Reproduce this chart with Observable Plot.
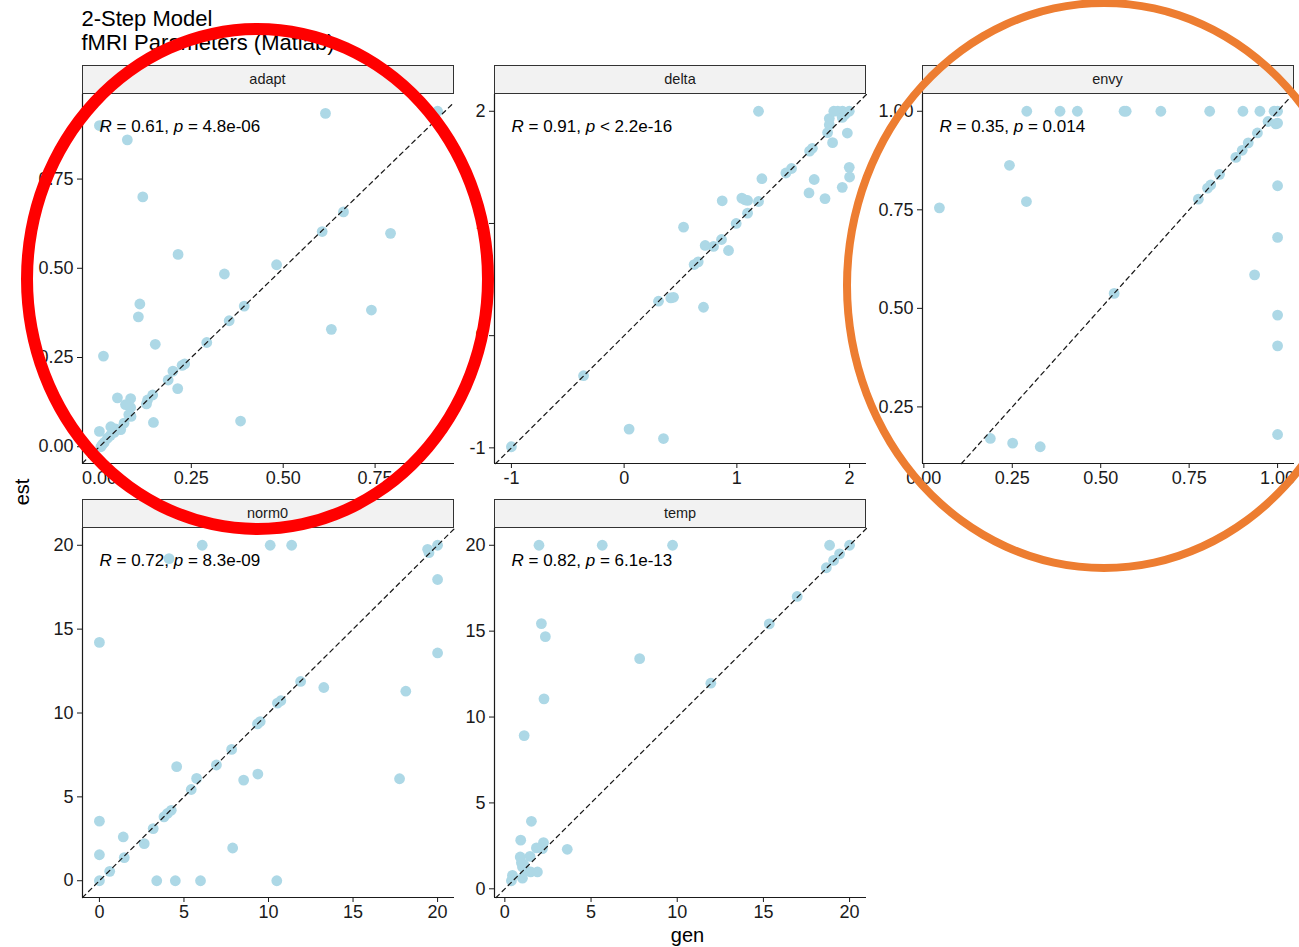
<!DOCTYPE html>
<html>
<head>
<meta charset="utf-8">
<script src="https://cdn.jsdelivr.net/npm/d3@7"></script>
<script src="https://cdn.jsdelivr.net/npm/@observablehq/plot@0.6"></script>
<style>
  body { margin: 0; background: #fff; font-family: "Liberation Sans", Arial, sans-serif; }
  #root { position: relative; width: 1299px; height: 947px; overflow: hidden; background: #fff; }
  .title { position: absolute; left: 81.5px; top: 7px; font-size: 22px; line-height: 24px; color: #000; white-space: nowrap; }
  .strip { position: absolute; box-sizing: border-box; background: #F2F2F2; border: 1.3px solid #333;
           font-size: 14.5px; color: #1a1a1a; text-align: center; display: flex; align-items: center; justify-content: center; }
  .axtitle { position: absolute; font-size: 20px; line-height: 20px; color: #000; white-space: nowrap; }
  .ring { position: absolute; box-sizing: border-box; border-radius: 50%; pointer-events: none; }
  svg.panel { position: absolute; overflow: visible; }
</style>
</head>
<body>
<div id="root"></div>
<script>
// ---------- data ----------
const panelNames = ["adapt", "delta", "envy", "norm0", "temp"];

const adaptGen = [0.00, 0.076, 0.118, 0.615, 0.92, 0.214, 0.34, 0.482, 0.664, 0.606, 0.792, 0.11, 0.394, 0.74, 0.106,
  0.631, 0.353, 0.152, 0.292, 0.011, 0.225, 0.232, 0.20, 0.187, 0.213, 0.145, 0.131, 0.128, 0.085, 0.049,
  0.071, 0.085, 0.08, 0.086, 0.147, 0.384, 0.0, 0.031, 0.067, 0.058, 0.044, 0.022, 0.013, 0.004, 0.008, 0.03, 0.04];
const adaptEst = [0.90, 0.86, 0.70, 0.934, 0.94, 0.539, 0.484, 0.51, 0.658, 0.603, 0.598, 0.40, 0.394, 0.383, 0.364,
  0.329, 0.353, 0.287, 0.292, 0.254, 0.228, 0.232, 0.212, 0.187, 0.163, 0.145, 0.131, 0.12, 0.135, 0.137,
  0.118, 0.11, 0.09, 0.085, 0.068, 0.072, 0.043, 0.056, 0.066, 0.048, 0.05, 0.024, 0.012, 0.0, 0.006, 0.032, 0.04];

const deltaGen = [-1.0, -0.36, 0.044, 0.349, 0.305, 0.414, 0.438, 0.704, 0.621, 0.657, 0.719, 0.793, 0.864, 0.926, 0.527,
  0.994, 1.095, 0.87, 1.044, 1.071, 1.095, 1.192, 1.222, 1.192, 1.435, 1.485, 1.64, 1.686, 1.782, 1.645,
  1.67, 1.849, 1.805, 1.82, 1.82, 1.86, 1.895, 1.937, 1.997, 1.935, 1.962, 1.98, 1.997, 2.0, 1.935];
const deltaEst = [-0.99, -0.357, -0.833, -0.917, 0.307, 0.336, 0.342, 0.253, 0.634, 0.658, 0.804, 0.795, 0.857, 0.759, 0.967,
  1.0, 1.092, 1.202, 1.226, 1.211, 1.205, 1.196, 1.399, 2.0, 1.45, 1.49, 1.272, 1.392, 1.222, 1.645,
  1.67, 1.72, 1.81, 1.88, 1.935, 2.0, 2.0, 2.0, 2.0, 1.945, 1.975, 1.806, 1.5, 1.414, 1.322];

const envyGen = [0.044, 0.242, 0.29, 0.291, 0.385, 0.434, 0.566, 0.572, 0.670, 0.808, 0.902, 0.950, 0.990, 1.0, 0.973,
  0.995, 1.0, 0.943, 0.917, 0.9, 0.882, 0.836, 0.811, 0.802, 0.776, 1.0, 1.0, 0.935, 0.538, 1.0,
  1.0, 1.0, 0.188, 0.251, 0.329];
const envyEst = [0.755, 0.863, 0.771, 1.0, 1.0, 1.0, 1.0, 1.0, 1.0, 1.0, 1.0, 1.0, 1.0, 1.0, 0.974,
  0.968, 0.97, 0.945, 0.92, 0.901, 0.883, 0.84, 0.813, 0.805, 0.777, 0.811, 0.68, 0.585, 0.538, 0.483,
  0.405, 0.18, 0.17, 0.158, 0.149];

const norm0Gen = [0, 6.08, 10.1, 11.37, 4.12, 19.41, 19.49, 20, 20, 20, 11.9, 13.27, 18.12, 10.53, 10.73,
  9.35, 9.51, 7.82, 6.92, 4.57, 5.75, 8.53, 9.37, 17.75, 5.43, 3.82, 4.02, 4.25, 3.18, 0,
  1.41, 2.65, 7.88, 0, 1.47, 0.61, 0, 3.39, 4.49, 5.98, 10.49];
const norm0Est = [14.21, 20, 20, 20, 19.2, 19.76, 19.56, 20, 17.96, 13.58, 11.88, 11.52, 11.3, 10.59, 10.73,
  9.35, 9.49, 7.83, 6.9, 6.8, 6.1, 6.0, 6.36, 6.08, 5.44, 3.81, 4.01, 4.2, 3.11, 3.55,
  2.61, 2.21, 1.95, 1.55, 1.38, 0.56, 0, 0, 0, 0, 0];

const tempGen = [1.98, 5.65, 9.73, 18.84, 20, 19.42, 19.07, 18.65, 16.96, 15.34, 2.12, 2.35, 7.82, 11.95, 2.27,
  1.12, 1.54, 0.92, 2.24, 1.83, 2.18, 3.62, 0.89, 1.46, 0.96, 1.02, 1.21, 1.5, 1.89, 1.02,
  0.44, 0.38, 1.1];
const tempEst = [20, 20, 20, 20, 20, 19.5, 19.12, 18.69, 17.02, 15.42, 15.44, 14.68, 13.4, 11.97, 11.06,
  8.92, 3.93, 2.83, 2.69, 2.38, 2.34, 2.3, 1.85, 1.89, 1.52, 1.27, 1.07, 0.98, 0.98, 0.62,
  0.78, 0.47, 1.4];

const corLabels = ["R = 0.61, p = 4.8e-06", "R = 0.91, p < 2.2e-16", "R = 0.35, p = 0.014",
                   "R = 0.72, p = 8.3e-09", "R = 0.82, p = 6.1e-13"];

const adaptTicks = [0, 0.25, 0.5, 0.75];
const deltaTicks = [-1, 0, 1, 2];
const envyXTicks = [0, 0.25, 0.5, 0.75, 1];
const envyYTicks = [0.25, 0.5, 0.75, 1];
const bigTicks = [0, 5, 10, 15, 20];

const titleLines = ["2-Step Model", "fMRI Parameters (Matlab)"];
const xTitle = "gen";
const yTitle = "est";

// ---------- layout ----------
const root = document.getElementById("root");
const FONT = '"Liberation Sans", Arial, sans-serif';
const PW = 372, PH = 369, ML = 70, MB = 40, STRIP = 29;
const colLeft = [81.5, 494, 921.5];
const rowTop = [93.5, 527.5];

const f2 = d3.format(".2f");
const fInt = d => String(d);

function expand([a, b]) { const d = (b - a) * 0.05; return [a - d, b + d]; }

function panel(i, gen, est, xTicks, yTicks, fmt, col, row) {
  const data = gen.map((g, k) => ({gen: g, est: est[k]}));
  const xd = expand(d3.extent(gen));
  const yd = expand(d3.extent(est));
  const lo = Math.max(xd[0], yd[0]), hi = Math.min(xd[1], yd[1]);
  const left = colLeft[col], top = rowTop[row];

  const svg = Plot.plot({
    width: ML + PW, height: PH + MB,
    marginLeft: ML, marginRight: 0, marginTop: 0, marginBottom: MB,
    style: {fontFamily: FONT, fontSize: "18px", color: "#1a1a1a", background: "transparent", overflow: "visible"},
    x: {domain: xd, label: null},
    y: {domain: yd, label: null},
    marks: [
      Plot.dot(data, {x: "gen", y: "est", r: 5.4, fill: "#ADD8E6", stroke: "none"}),
      Plot.line([{gen: lo, est: lo}, {gen: hi, est: hi}],
                {x: "gen", y: "est", stroke: "#1a1a1a", strokeWidth: 1.25, strokeDasharray: "4.5,4"}),
      Plot.ruleX([xd[0]], {stroke: "#1a1a1a", strokeWidth: 1.2}),
      Plot.ruleY([yd[0]], {stroke: "#1a1a1a", strokeWidth: 1.2}),
      Plot.axisX(xTicks, {tickSize: 5, tickPadding: 3, tickFormat: fmt, label: null, fontSize: 18}),
      Plot.axisY(yTicks, {tickSize: 5, tickPadding: 4, tickFormat: fmt, label: null, fontSize: 18}),
      Plot.text([corLabels[i]], {frameAnchor: "top-left", dx: 17, dy: 32, textAnchor: "start",
                                 lineAnchor: "middle", fontSize: 17, fill: "#000"})
    ]
  });
  svg.classList.add("panel");
  svg.style.left = (left - ML) + "px";
  svg.style.top = top + "px";
  root.appendChild(svg);

  // italic R and p in the correlation label
  const t = svg.querySelector('g[aria-label="text"] text');
  if (t) {
    const m = corLabels[i].match(/^R(.*?, )p(.*)$/);
    if (m) {
      const ns = "http://www.w3.org/2000/svg";
      while (t.firstChild) t.removeChild(t.firstChild);
      const a = document.createElementNS(ns, "tspan"); a.setAttribute("font-style", "italic"); a.textContent = "R";
      const b = document.createElementNS(ns, "tspan"); b.textContent = m[1];
      const c = document.createElementNS(ns, "tspan"); c.setAttribute("font-style", "italic"); c.textContent = "p";
      const d = document.createElementNS(ns, "tspan"); d.textContent = m[2];
      t.append(a, b, c, d);
    }
  }

  const s = document.createElement("div");
  s.className = "strip";
  s.style.left = left + "px";
  s.style.top = (top - STRIP) + "px";
  s.style.width = PW + "px";
  s.style.height = (STRIP + 0.5) + "px";
  s.textContent = panelNames[i];
  root.appendChild(s);
}

panel(0, adaptGen, adaptEst, adaptTicks, adaptTicks, f2, 0, 0);
panel(1, deltaGen, deltaEst, deltaTicks, deltaTicks, fInt, 1, 0);
panel(2, envyGen, envyEst, envyXTicks, envyYTicks, f2, 2, 0);
panel(3, norm0Gen, norm0Est, bigTicks, bigTicks, fInt, 0, 1);
panel(4, tempGen, tempEst, bigTicks, bigTicks, fInt, 1, 1);

// title
const title = document.createElement("div");
title.className = "title";
title.innerHTML = titleLines.map(s => `<div>${s}</div>`).join("");
root.appendChild(title);

// axis titles
const gx = document.createElement("div");
gx.className = "axtitle";
gx.textContent = xTitle;
gx.style.left = "687.5px"; gx.style.top = "925px"; gx.style.transform = "translateX(-50%)";
root.appendChild(gx);

const gy = document.createElement("div");
gy.className = "axtitle";
gy.textContent = yTitle;
gy.style.left = "22px"; gy.style.top = "492px"; gy.style.transform = "translate(-50%,-50%) rotate(-90deg)";
root.appendChild(gy);

// highlight rings drawn over the figure
const red = document.createElement("div");
red.className = "ring";
Object.assign(red.style, {left: "20.5px", top: "22.5px", width: "473px", height: "512px", border: "12px solid #FF0000"});
root.appendChild(red);

const orange = document.createElement("div");
orange.className = "ring";
Object.assign(orange.style, {left: "843px", top: "-1px", width: "522px", height: "573px", border: "8.5px solid #ED7D31"});
root.appendChild(orange);
</script>
</body>
</html>
